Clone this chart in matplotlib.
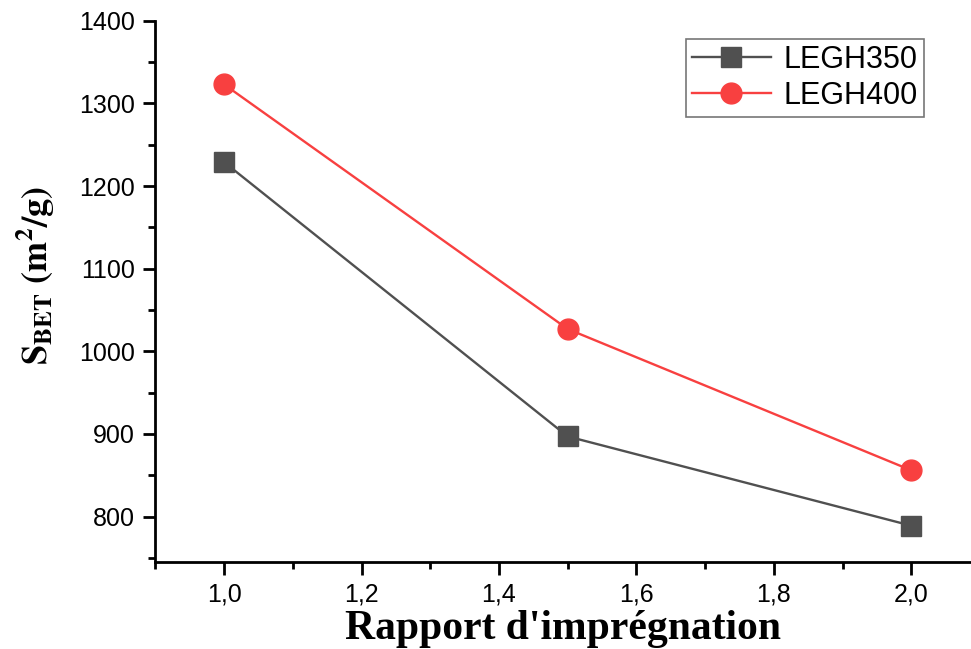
import matplotlib
matplotlib.use('Agg')
import matplotlib.pyplot as plt
from matplotlib.ticker import MultipleLocator, FuncFormatter

# impregnation ratio vs BET surface
ratio = [1.0, 1.5, 2.0]
legh350 = [1229, 897, 789]
legh400 = [1323, 1027, 856]

plt.rcParams['font.family'] = ['Liberation Sans', 'DejaVu Sans']
plt.rcParams['mathtext.fontset'] = 'stix'

fig = plt.figure(figsize=(9.71, 6.49), dpi=100)
ax = fig.add_axes([0.16, 0.134, 0.84, 0.834])

ax.plot(ratio, legh350, color='#505050', lw=1.7, marker='s', ms=14, label='LEGH350')
ax.plot(ratio, legh400, color='#f84040', lw=1.7, marker='o', ms=15, label='LEGH400')

ax.set_xlim(0.9, 2.087)
ax.set_ylim(745, 1400)

ax.xaxis.set_major_locator(MultipleLocator(0.2))
ax.xaxis.set_minor_locator(MultipleLocator(0.1))
ax.yaxis.set_major_locator(MultipleLocator(100))
ax.yaxis.set_minor_locator(MultipleLocator(50))
ax.xaxis.set_major_formatter(FuncFormatter(lambda v, p: ('%.1f' % v).replace('.', ',')))

ax.spines['top'].set_visible(False)
ax.spines['right'].set_visible(False)
for s in ['left', 'bottom']:
    ax.spines[s].set_linewidth(2)
ax.tick_params(which='major', length=9, width=2, labelsize=18, direction='out', pad=6)
ax.tick_params(which='minor', length=5, width=2, direction='out')

ax.set_xlabel("Rapport d'imprégnation", fontsize=30, fontweight='bold',
              family='Liberation Serif')
ax.xaxis.set_label_coords(0.5, -0.088)
ax.set_ylabel(r'$\mathbf{S_{BET}\ (m^2/g)}$', fontsize=26)
ax.yaxis.set_label_coords(-0.12, 0.53)

leg = ax.legend(loc='upper right', bbox_to_anchor=(0.942, 0.967), fontsize=22,
                fancybox=False, framealpha=1, edgecolor='#777777',
                handlelength=2.6, borderpad=0.2, labelspacing=0.2,
                handletextpad=0.4, borderaxespad=0)
leg.get_frame().set_linewidth(1.2)

fig.savefig('out.png', dpi=100)
